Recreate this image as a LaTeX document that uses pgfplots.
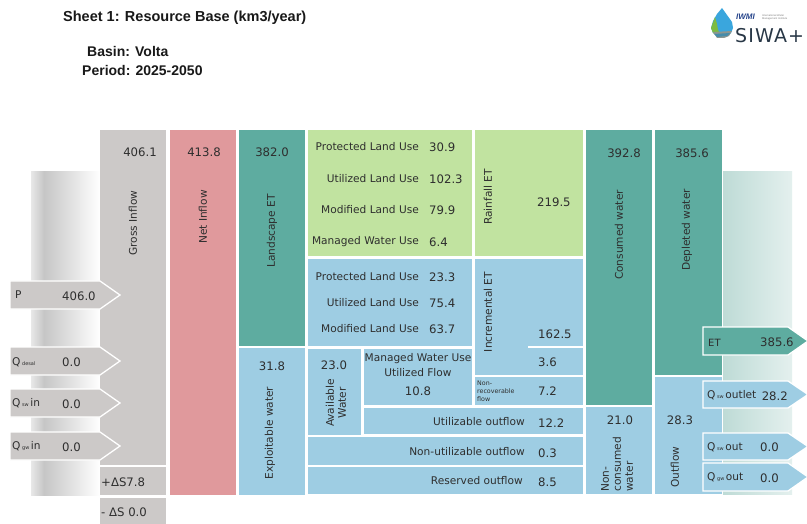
\documentclass[border=0pt]{standalone}
\usepackage{pgfplots}
\pgfplotsset{compat=1.18}
\usepackage{fontspec}
\setmainfont{DejaVu Sans}
\newfontfamily\titlefont{Liberation Sans}
\newfontfamily\logofont[LetterSpace=6]{DejaVu Sans}
\definecolor{gcol}{HTML}{CCC9C8}
\definecolor{pinkc}{HTML}{E0999C}
\definecolor{tealc}{HTML}{5EACA0}
\definecolor{greenc}{HTML}{C1E3A0}
\definecolor{bluec}{HTML}{9ECDE3}
\definecolor{txt}{HTML}{2E2E2E}
\newcommand{\rect}[5]{\addplot[draw=none, fill=#5] coordinates {(#1,#2) (#3,#2) (#3,#4) (#1,#4)} --cycle;}
\newcommand{\arr}[7]{\addplot[draw=white, line width=1.3pt, fill=#7] coordinates {(#1,#2) (#3,#2) (#5,#6) (#3,#4) (#1,#4)} --cycle;}
\begin{document}
\begin{tikzpicture}[
  num/.style={font=\fontsize{11.7}{13}\selectfont, text=txt, inner sep=0pt},
  lab/.style={font=\fontsize{10.6}{12}\selectfont, text=txt, inner sep=0pt}]
\begin{axis}[name=ax, at={(0,0)}, anchor=south west, scale only axis,
  width=807pt, height=524pt, xmin=0, xmax=807, ymin=0, ymax=524,
  y dir=reverse, hide axis, clip=true]
% background
\addplot[draw=none, fill=white] coordinates {(0,0) (807,0) (807,524) (0,524)} --cycle;
% left gradient column
\addplot[draw=none, left color=gray!18, right color=gray!45] coordinates {(31,172) (44,172) (44,495) (31,495)} --cycle;
\addplot[draw=none, left color=gray!45, right color=white] coordinates {(44,172) (100,172) (100,495) (44,495)} --cycle;
% right gradient column
\addplot[draw=none, left color={rgb,255:red,190;green,219;blue,214}, right color={rgb,255:red,228;green,240;blue,238}] coordinates {(723,172) (792,172) (792,494) (723,494)} --cycle;
% columns
\rect{100}{130}{166}{465}{gcol}
\rect{100}{467}{166}{495}{gcol}
\rect{100}{498}{166}{524}{gcol}
\addplot[white, line width=2pt, dash pattern=on 9pt off 4pt] coordinates {(100,496.5) (166,496.5)};
\rect{170}{130}{236}{495}{pinkc}
\rect{239}{130}{305}{346}{tealc}
\rect{239}{348}{305}{495}{bluec}
\rect{308}{130}{472}{256}{greenc}
\rect{475}{130}{583}{256}{greenc}
\rect{308}{259}{472}{346}{bluec}
\rect{475}{259}{583}{375}{bluec}
\addplot[white, line width=2pt] coordinates {(528,347) (583,347)};
\rect{475}{377}{583}{405}{bluec}
\rect{308}{349}{361}{435}{bluec}
\rect{364}{349}{472}{405}{bluec}
\rect{364}{408}{583}{434}{bluec}
\rect{308}{437}{583}{465}{bluec}
\rect{308}{467}{583}{494}{bluec}
\rect{586}{130}{652}{405}{tealc}
\rect{586}{407}{652}{494}{bluec}
\rect{655}{130}{722}{375}{tealc}
\rect{655}{377}{722}{494}{bluec}
% input arrows
\arr{10}{281}{100}{309}{120}{295}{gcol}
\arr{10}{347}{100}{375}{120}{361}{gcol}
\arr{10}{389}{100}{417}{120}{403}{gcol}
\arr{10}{432}{100}{460}{120}{446}{gcol}
% output arrows
\arr{703}{327}{788}{355}{808}{341}{tealc}
\arr{703}{381}{788}{408}{808}{394.5}{bluec}
\arr{703}{433}{788}{460}{808}{446.5}{bluec}
\arr{703}{463}{788}{491}{808}{477}{bluec}
% logo
\addplot[draw=none, fill={rgb,255:red,58;green,166;blue,221}] coordinates {(722,8) (727,15) (732,22) (733,28) (731,33) (726,37) (719,37) (713,33) (711,28) (713,21) (717,14)} --cycle;
\addplot[draw=none, fill={rgb,255:red,125;green,187;blue,66}] coordinates {(715,17) (711,28) (713,33) (719,37) (722,36) (718,30) (717,24)} --cycle;
\addplot[draw=none, fill={rgb,255:red,140;green,150;blue,145}] coordinates {(713,32) (732,31) (729,36) (724,38) (717,38)} --cycle;
\addplot[draw=none, fill={rgb,255:red,70;green,140;blue,170}] coordinates {(714,34) (730,33) (727,36) (717,37)} --cycle;
% titles
\node[anchor=west, font=\titlefont\bfseries\fontsize{14.5}{16}\selectfont, text=black!90, inner sep=0pt] at (axis cs:63,18) {Sheet 1: Resource Base (km3/year)};
\node[anchor=west, font=\titlefont\bfseries\fontsize{14}{16}\selectfont, text=black!90, inner sep=0pt] at (axis cs:87,51) {Basin: Volta};
\node[anchor=west, font=\titlefont\bfseries\fontsize{14}{16}\selectfont, text=black!90, inner sep=0pt] at (axis cs:82,70) {Period: 2025-2050};
\node[anchor=west, font=\titlefont\bfseries\itshape\fontsize{8}{8}\selectfont, text={rgb,255:red,40;green,70;blue,140}, inner sep=0pt] at (axis cs:736,17) {IWMI};
\node[anchor=west, font=\titlefont\fontsize{2.6}{3}\selectfont, text=gray, align=left, inner sep=0pt] at (axis cs:762,17) {International Water\\Management Institute};
\node[anchor=west, font=\logofont\fontsize{19}{20}\selectfont, text={rgb,255:red,40;green,55;blue,70}, inner sep=0pt] at (axis cs:735,36) {SIWA+};
% column texts
\node[num] at (axis cs:140,152) {406.1};
\node[lab, rotate=90] at (axis cs:133,223) {Gross Inflow};
\node[num] at (axis cs:204,152) {413.8};
\node[lab, rotate=90] at (axis cs:203,217) {Net Inflow};
\node[num] at (axis cs:272,152) {382.0};
\node[lab, rotate=90] at (axis cs:272,231) {Landscape ET};
\node[num] at (axis cs:272,366) {31.8};
\node[lab, rotate=90] at (axis cs:270,433) {Exploitable water};
% green
\node[lab, anchor=east] at (axis cs:419,147) {Protected Land Use};
\node[lab, anchor=east] at (axis cs:419,179) {Utilized Land Use};
\node[lab, anchor=east] at (axis cs:419,210) {Modified Land Use};
\node[lab, anchor=east] at (axis cs:419,242) {Managed Water Use};
\node[num, anchor=west] at (axis cs:429,147) {30.9};
\node[num, anchor=west] at (axis cs:429,179) {102.3};
\node[num, anchor=west] at (axis cs:429,210) {79.9};
\node[num, anchor=west] at (axis cs:429,242) {6.4};
\node[lab, rotate=90] at (axis cs:488,197) {Rainfall ET};
\node[num, anchor=west] at (axis cs:537,202) {219.5};
% blue upper
\node[lab, anchor=east] at (axis cs:419,277) {Protected Land Use};
\node[lab, anchor=east] at (axis cs:419,303) {Utilized Land Use};
\node[lab, anchor=east] at (axis cs:419,329) {Modified Land Use};
\node[num, anchor=west] at (axis cs:429,277) {23.3};
\node[num, anchor=west] at (axis cs:429,303) {75.4};
\node[num, anchor=west] at (axis cs:429,329) {63.7};
\node[lab, rotate=90] at (axis cs:488,312) {Incremental ET};
\node[num, anchor=west] at (axis cs:538,334) {162.5};
\node[num, anchor=west] at (axis cs:538,362) {3.6};
\node[font=\fontsize{6.3}{8}\selectfont, text=txt, inner sep=0pt, anchor=west, align=left] at (axis cs:477,391) {Non-\\recoverable\\flow};
\node[num, anchor=west] at (axis cs:538,391) {7.2};
\node[num] at (axis cs:334,365) {23.0};
\node[lab, rotate=90, align=center] at (axis cs:336,403) {Available\\Water};
\node[lab] at (axis cs:418,359) {Managed Water Use};
\node[lab] at (axis cs:418,373) {Utilized Flow};
\node[num] at (axis cs:418,391) {10.8};
\node[lab, anchor=east] at (axis cs:525,422) {Utilizable outflow};
\node[num, anchor=west] at (axis cs:538,423) {12.2};
\node[lab, anchor=east] at (axis cs:525,452) {Non-utilizable outflow};
\node[num, anchor=west] at (axis cs:538,453) {0.3};
\node[lab, anchor=east] at (axis cs:523,481) {Reserved outflow};
\node[num, anchor=west] at (axis cs:538,482) {8.5};
% consumed / depleted
\node[num] at (axis cs:624,153) {392.8};
\node[lab, rotate=90] at (axis cs:619,235) {Consumed water};
\node[num] at (axis cs:692,153) {385.6};
\node[lab, rotate=90] at (axis cs:687,230) {Depleted water};
\node[num] at (axis cs:620,420) {21.0};
\node[lab, rotate=90, anchor=west, align=left] at (axis cs:617,492) {Non-\\consumed\\water};
\node[num] at (axis cs:680,420) {28.3};
\node[lab, rotate=90] at (axis cs:675,467) {Outflow};
% output arrow texts
\node[font=\fontsize{10}{12}\selectfont, text=txt, inner sep=0pt, anchor=west] at (axis cs:708,343) {ET};
\node[num, anchor=west] at (axis cs:760,342) {385.6};
\node[lab, anchor=west] at (axis cs:707,395) {Q{\fontsize{5}{5}\selectfont\raisebox{-0.5pt}{ sw }}outlet};
\node[num, anchor=east] at (axis cs:788,396) {28.2};
\node[lab, anchor=west] at (axis cs:707,447) {Q{\fontsize{5}{5}\selectfont\raisebox{-0.5pt}{ sw }}out};
\node[num, anchor=west] at (axis cs:760,447) {0.0};
\node[lab, anchor=west] at (axis cs:707,477) {Q{\fontsize{5}{5}\selectfont\raisebox{-0.5pt}{ gw }}out};
\node[num, anchor=west] at (axis cs:760,478) {0.0};
% input arrow texts
\node[lab, anchor=west] at (axis cs:15,295) {P};
\node[num, anchor=west] at (axis cs:62,296) {406.0};
\node[lab, anchor=west] at (axis cs:12,362) {Q{\fontsize{5}{5}\selectfont\raisebox{-0.5pt}{ desal}}};
\node[num, anchor=west] at (axis cs:62,362) {0.0};
\node[lab, anchor=west] at (axis cs:12,403) {Q{\fontsize{5}{5}\selectfont\raisebox{-0.5pt}{ sw }}in};
\node[num, anchor=west] at (axis cs:62,404) {0.0};
\node[lab, anchor=west] at (axis cs:12,446) {Q{\fontsize{5}{5}\selectfont\raisebox{-0.5pt}{ gw }}in};
\node[num, anchor=west] at (axis cs:62,447) {0.0};
\node[num, anchor=west] at (axis cs:101,482) {+ΔS7.8};
\node[num, anchor=west] at (axis cs:101,512) {- ΔS 0.0};
\end{axis}
\pgfresetboundingbox
\path[use as bounding box] (ax.south west) rectangle (ax.north east);
\end{tikzpicture}
\end{document}
